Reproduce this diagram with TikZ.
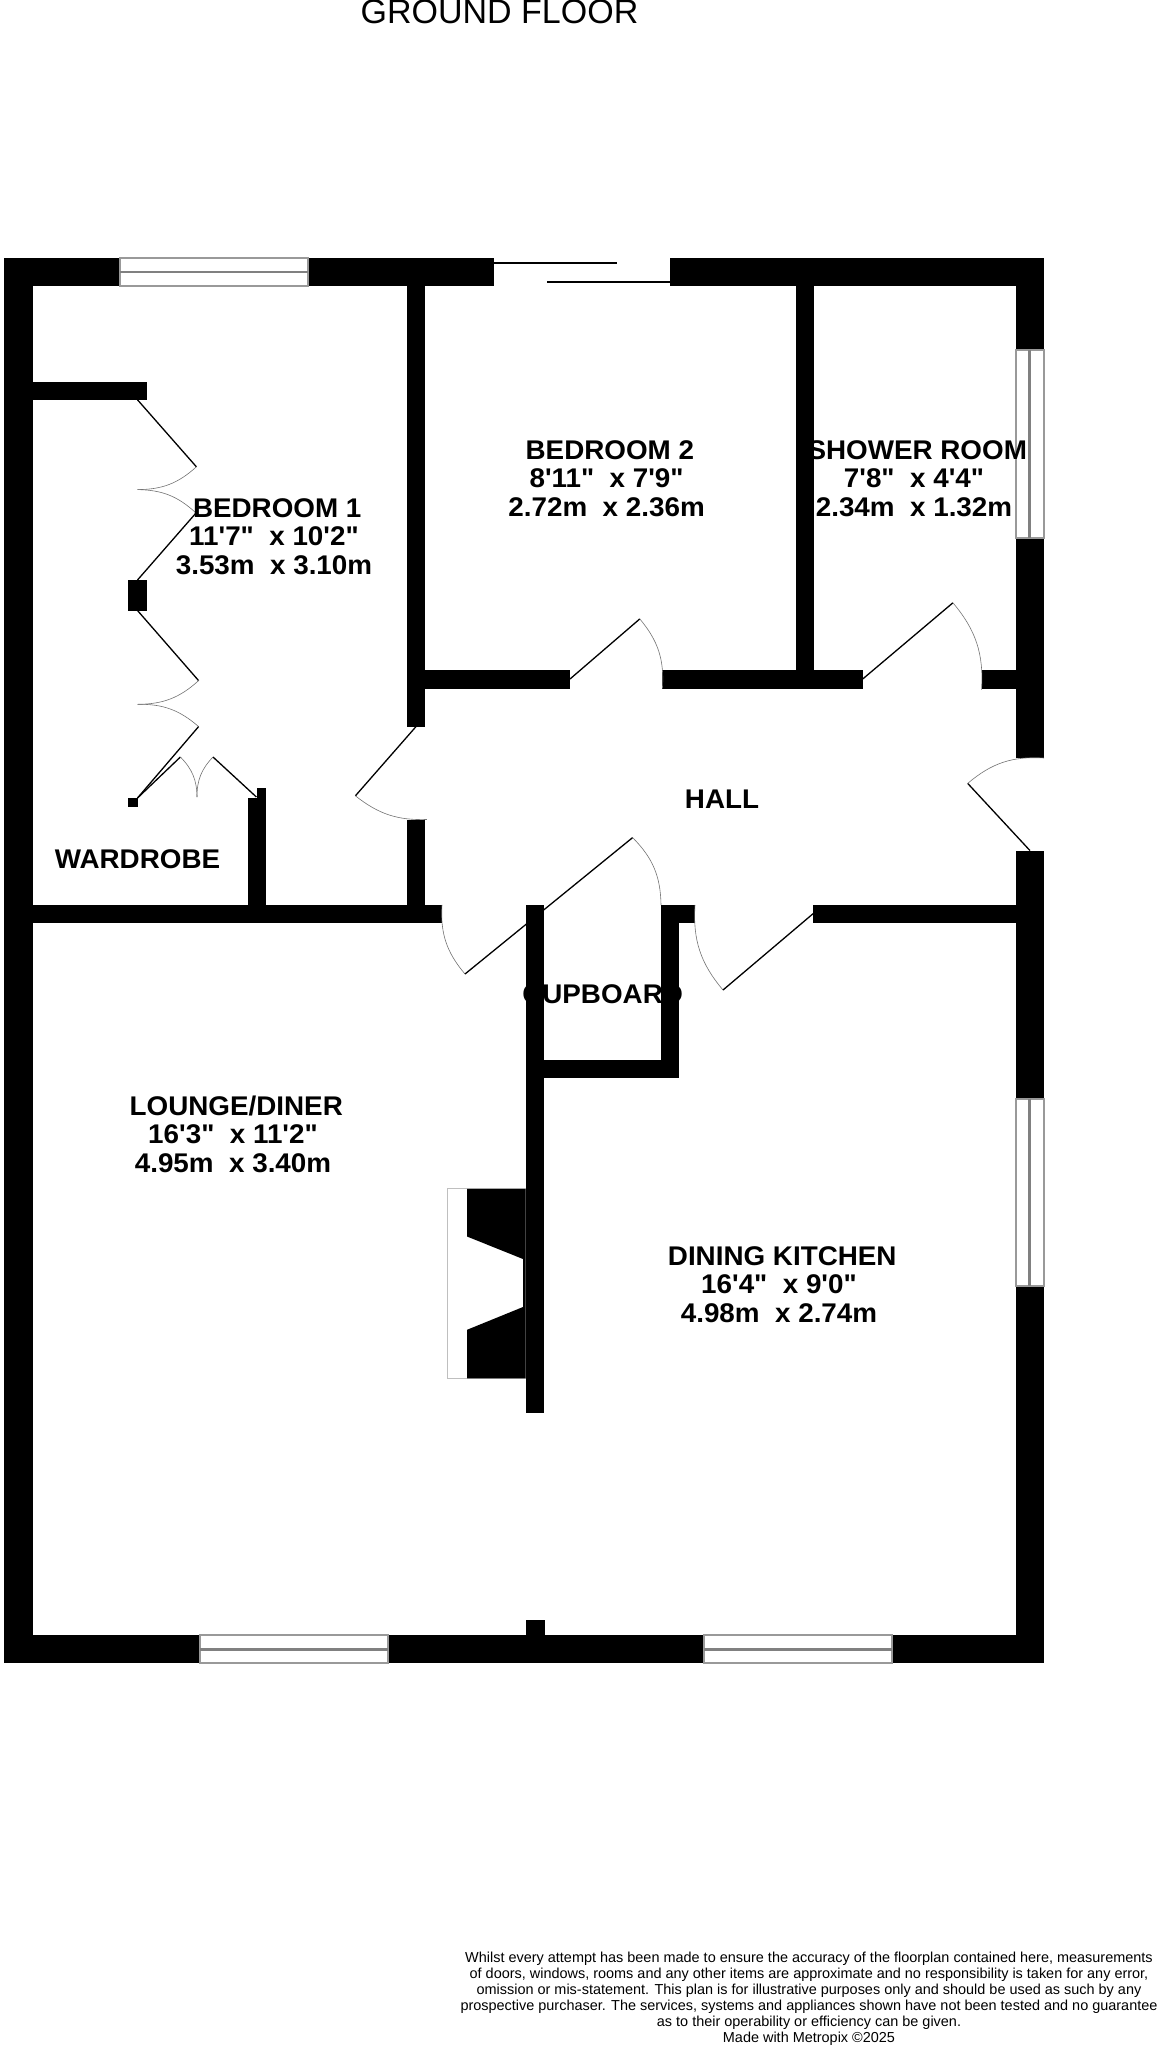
\documentclass[tikz,border=0pt]{standalone}
\usepackage{fontspec}
\newfontfamily\planfont[FakeStretch=1.03]{Liberation Sans}
\newfontfamily\notefont{Liberation Sans}
\newcommand{\roomname}[1]{\hspace*{6.5pt}#1}
\tikzset{
  wall/.style={fill=black},
  leaf/.style={black, line width=1.3pt},
  swing/.style={black!55, line width=0.6pt},
  pane/.style={fill=white, draw=black!40, line width=2pt},
  bar/.style={black!50, line width=2.4pt},
  roomlabel/.style={align=center, inner sep=0pt, font=\planfont\bfseries\fontsize{27}{28.4}\selectfont},
}
\begin{document}
\begin{tikzpicture}[x=1pt, y=-1pt]
  \useasboundingbox (0, 0) rectangle (1157, 2048);
  \fill[wall] (4.3, 258.3) rectangle (32.5, 1663.3);
  \fill[wall] (4.3, 258.3) rectangle (493.6, 286);
  \fill[wall] (670, 258.3) rectangle (1043.5, 286);
  \fill[wall] (4.3, 1635.3) rectangle (1043.5, 1663.3);
  \fill[wall] (1015.8, 258.3) rectangle (1043.5, 758);
  \fill[wall] (1015.8, 850.6) rectangle (1043.5, 1663.3);
  \fill[wall] (407, 258.3) rectangle (425.4, 726.6);
  \fill[wall] (407, 819.5) rectangle (425.4, 923);
  \fill[wall] (795.5, 258.3) rectangle (813.7, 688.5);
  \fill[wall] (407, 670) rectangle (570, 688.5);
  \fill[wall] (662.4, 670) rectangle (862.7, 688.5);
  \fill[wall] (981.5, 670) rectangle (1015.8, 688.5);
  \fill[wall] (4.3, 904.8) rectangle (442, 923);
  \fill[wall] (813.3, 904.8) rectangle (1015.8, 923);
  \fill[wall] (661, 904.8) rectangle (695, 923);
  \fill[wall] (661, 904.8) rectangle (679.3, 1078);
  \fill[wall] (525.5, 904.8) rectangle (544, 1413);
  \fill[wall] (525.5, 1060) rectangle (679.3, 1078);
  \fill[wall] (525.5, 1620.3) rectangle (544.6, 1640);
  \fill[wall] (32.5, 381.5) rectangle (146.8, 399.8);
  \fill[wall] (127.9, 580) rectangle (146.8, 610.5);
  \fill[wall] (127.9, 798) rectangle (137.5, 807);
  \fill[wall] (247.5, 798) rectangle (266, 904.8);
  \fill[wall] (257, 788) rectangle (266, 798);

  \filldraw[pane] (120, 258.3) rectangle (308, 286);
  \draw[bar] (120, 272) -- (308, 272);
  \filldraw[pane] (200, 1635.3) rectangle (388, 1663.3);
  \draw[bar] (200, 1649.3) -- (388, 1649.3);
  \filldraw[pane] (704, 1635.3) rectangle (892, 1663.3);
  \draw[bar] (704, 1649.3) -- (892, 1649.3);
  \filldraw[pane] (1015.8, 350.2) rectangle (1043.5, 537.7);
  \draw[bar] (1029.6, 350.2) -- (1029.6, 537.7);
  \filldraw[pane] (1015.8, 1098.6) rectangle (1043.5, 1286.4);
  \draw[bar] (1029.6, 1098.6) -- (1029.6, 1286.4);

  \draw[leaf] (494, 263) -- (616.8, 263);
  \draw[leaf] (547.4, 282) -- (670, 282);

  \draw[leaf] (137.5, 399.8) -- (196.4, 466.8);
  \draw[swing] (196.4, 466.8) to[bend left=21] (137.5, 489.6);
  \draw[swing] (137.5, 489.6) to[bend left=21] (196, 513);
  \draw[leaf] (196, 513) -- (137.5, 580);
  \draw[leaf] (137.5, 610.5) -- (198.6, 680.6);
  \draw[swing] (198.6, 680.6) to[bend left=21] (137.5, 704.3);
  \draw[swing] (137.5, 704.3) to[bend left=21] (198.6, 726.6);
  \draw[leaf] (198.6, 726.6) -- (137.5, 798);
  \draw[leaf] (137.5, 798) -- (180.4, 757);
  \draw[swing] (180.4, 757) to[bend left=22] (197, 797);
  \draw[swing] (213, 757) to[bend right=22] (197, 797);
  \draw[leaf] (213, 757) -- (256.4, 797);

  \draw[leaf] (416, 726.6) -- (355.4, 795.8);
  \draw[swing] (355.4, 795.8) to[bend right=20] (426.8, 819.5);
  \draw[swing] (442, 904.8) to[bend right=22] (465, 974);
  \draw[leaf] (465, 974) -- (632.6, 837.6);
  \draw[swing] (632.6, 837.6) to[bend left=22] (661, 905);
  \draw[swing] (695, 905) to[bend right=22] (723, 990);
  \draw[leaf] (723, 990) -- (813.3, 913.5);
  \draw[leaf] (570, 679) -- (639.8, 618.9);
  \draw[swing] (639.8, 618.9) to[bend left=22] (662.4, 688.5);
  \draw[leaf] (862.7, 679) -- (952.9, 602.8);
  \draw[swing] (952.9, 602.8) to[bend left=22] (981.5, 689.7);
  \draw[leaf] (1030, 850.6) -- (967.7, 783.4);
  \draw[swing] (967.7, 783.4) to[bend left=22] (1044, 758);

  \draw[black!25, line width=0.8pt] (447.6, 1188.8) rectangle (525.5, 1378.3);
  \fill[wall] (467, 1188.8) -- (525.5, 1188.8) -- (525.5, 1378.3) -- (467, 1378.3) -- (467, 1329.8) -- (523, 1307) -- (523, 1259) -- (467, 1236.5) -- cycle;

  \node[roomlabel] (bedroomone) at (274, 536.5) {\roomname{BEDROOM 1}\\11'7"~~x 10'2"\\3.53m~~x 3.10m};
  \node[roomlabel] (bedroomtwo) at (606.6, 478.5) {\roomname{BEDROOM 2}\\8'11"~~x 7'9"\\2.72m~~x 2.36m};
  \node[roomlabel] (showerroom) at (914, 478.5) {\roomname{SHOWER ROOM}\\7'8"~~x 4'4"\\2.34m~~x 1.32m};
  \node[roomlabel] (hall) at (722, 799.5) {HALL};
  \node[roomlabel] (wardrobe) at (137.5, 859) {WARDROBE};
  \node[roomlabel] (cupboard) at (602.6, 994.5) {CUPBOARD};
  \node[roomlabel] (lounge) at (233, 1134) {\roomname{LOUNGE/DINER}\\16'3"~~x 11'2"\\4.95m~~x 3.40m};
  \node[roomlabel] (kitchen) at (779, 1284.5) {\roomname{DINING KITCHEN}\\16'4"~~x 9'0"\\4.98m~~x 2.74m};
  \node[align=center, inner sep=0pt, font=\notefont\fontsize{34}{36}\selectfont] (title) at (499.5, 12) {GROUND FLOOR};
  \node[align=center, inner sep=0pt, font=\notefont\fontsize{14.45}{16}\selectfont] (note) at (809, 1999) {Whilst every attempt has been made to ensure the accuracy of the floorplan contained here, measurements\\of doors, windows, rooms and any other items are approximate and no responsibility is taken for any error,\\omission or mis-statement. This plan is for illustrative purposes only and should be used as such by any\\prospective purchaser. The services, systems and appliances shown have not been tested and no guarantee\\as to their operability or efficiency can be given.\\Made with Metropix \textcopyright 2025};
\end{tikzpicture}
\end{document}
